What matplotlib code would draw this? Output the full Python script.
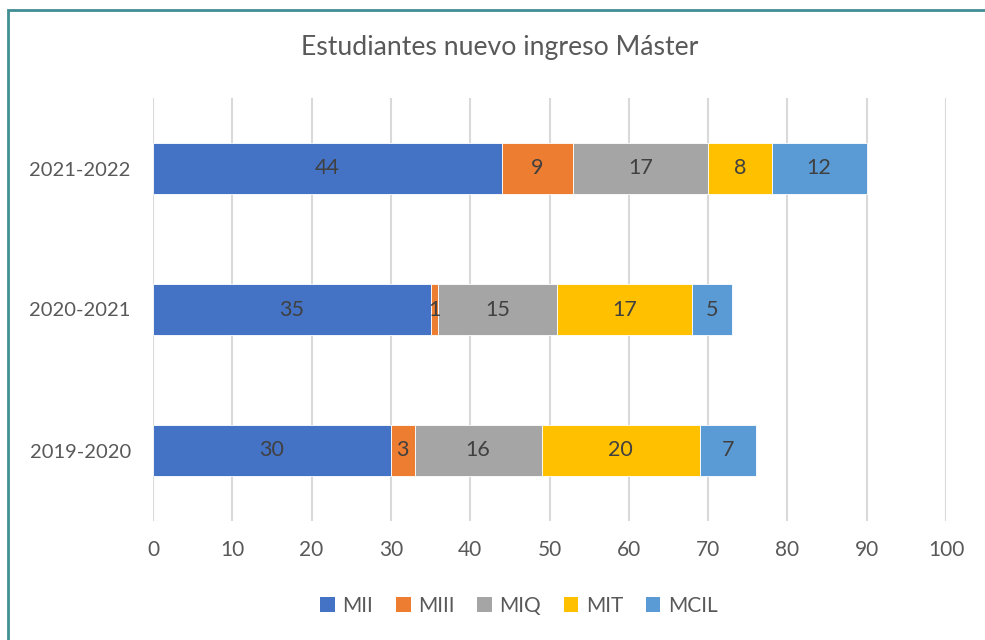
import matplotlib
matplotlib.use("Agg")
import matplotlib.pyplot as plt
from matplotlib.patches import Rectangle, Patch
import numpy as np

plt.rcParams['font.family'] = ['Lato', 'DejaVu Sans']

years = ["2019-2020", "2020-2021", "2021-2022"]
series_names = ["MII", "MIII", "MIQ", "MIT", "MCIL"]
mii = [30, 35, 44]
miii = [3, 1, 9]
miq = [16, 15, 17]
mit = [20, 17, 8]
mcil = [7, 5, 12]
colors = ["#4472C4", "#ED7D31", "#A5A5A5", "#FFC000", "#5B9BD5"]
xticks = [0, 10, 20, 30, 40, 50, 60, 70, 80, 90, 100]

series = [mii, miii, miq, mit, mcil]

fig = plt.figure(figsize=(9.85, 6.4), dpi=100)
ax = fig.add_axes([153/985, 1-521/640, (946-153)/985, (521-98)/640])

y = np.arange(len(years))
left = np.zeros(len(years))
for name, vals, c in zip(series_names, series, colors):
    vals = np.array(vals, dtype=float)
    ax.barh(y, vals, left=left, height=0.355, color=c, label=name,
            zorder=3, edgecolor='white', linewidth=0.6)
    for xi, (l, v) in enumerate(zip(left, vals)):
        ax.text(l + v/2, y[xi], f"{int(v)}", ha='center', va='center',
                fontsize=15.5, color='#404040', zorder=4)
    left += vals

ax.set_xlim(0, 100)
ax.set_ylim(-0.5, 2.5)
ax.set_xticks(xticks)
ax.set_xticklabels([str(t) for t in xticks])
ax.set_yticks(y)
ax.set_yticklabels(years)
ax.tick_params(axis='both', length=0, colors='#595959')
ax.tick_params(axis='x', pad=14, labelsize=15)
ax.tick_params(axis='y', pad=16, labelsize=14.5)
ax.grid(axis='x', color='#D9D9D9', linewidth=1.5, zorder=0)
ax.grid(axis='y', visible=False)
for s in ax.spines.values():
    s.set_visible(False)

fig.text(500/985, 1-47/640, "Estudiantes nuevo ingreso Máster", ha='center', va='center',
         fontsize=19.2, color='#595959')

handles = [Patch(facecolor=c, label=n) for n, c in zip(series_names, colors)]
leg = fig.legend(handles=handles, loc='center', bbox_to_anchor=(519/985, 1-606/640),
                 ncol=5, frameon=False, fontsize=15, handlelength=0.7, handleheight=0.7,
                 handletextpad=0.35, columnspacing=1.1)
for t in leg.get_texts():
    t.set_color('#595959')

fig.patches.append(Rectangle((8/985, -0.1), 1.2, (630)/640 + 0.1, transform=fig.transFigure,
                             fill=False, edgecolor='#408E94', linewidth=2, clip_on=False))

fig.savefig("out.png", dpi=100)
